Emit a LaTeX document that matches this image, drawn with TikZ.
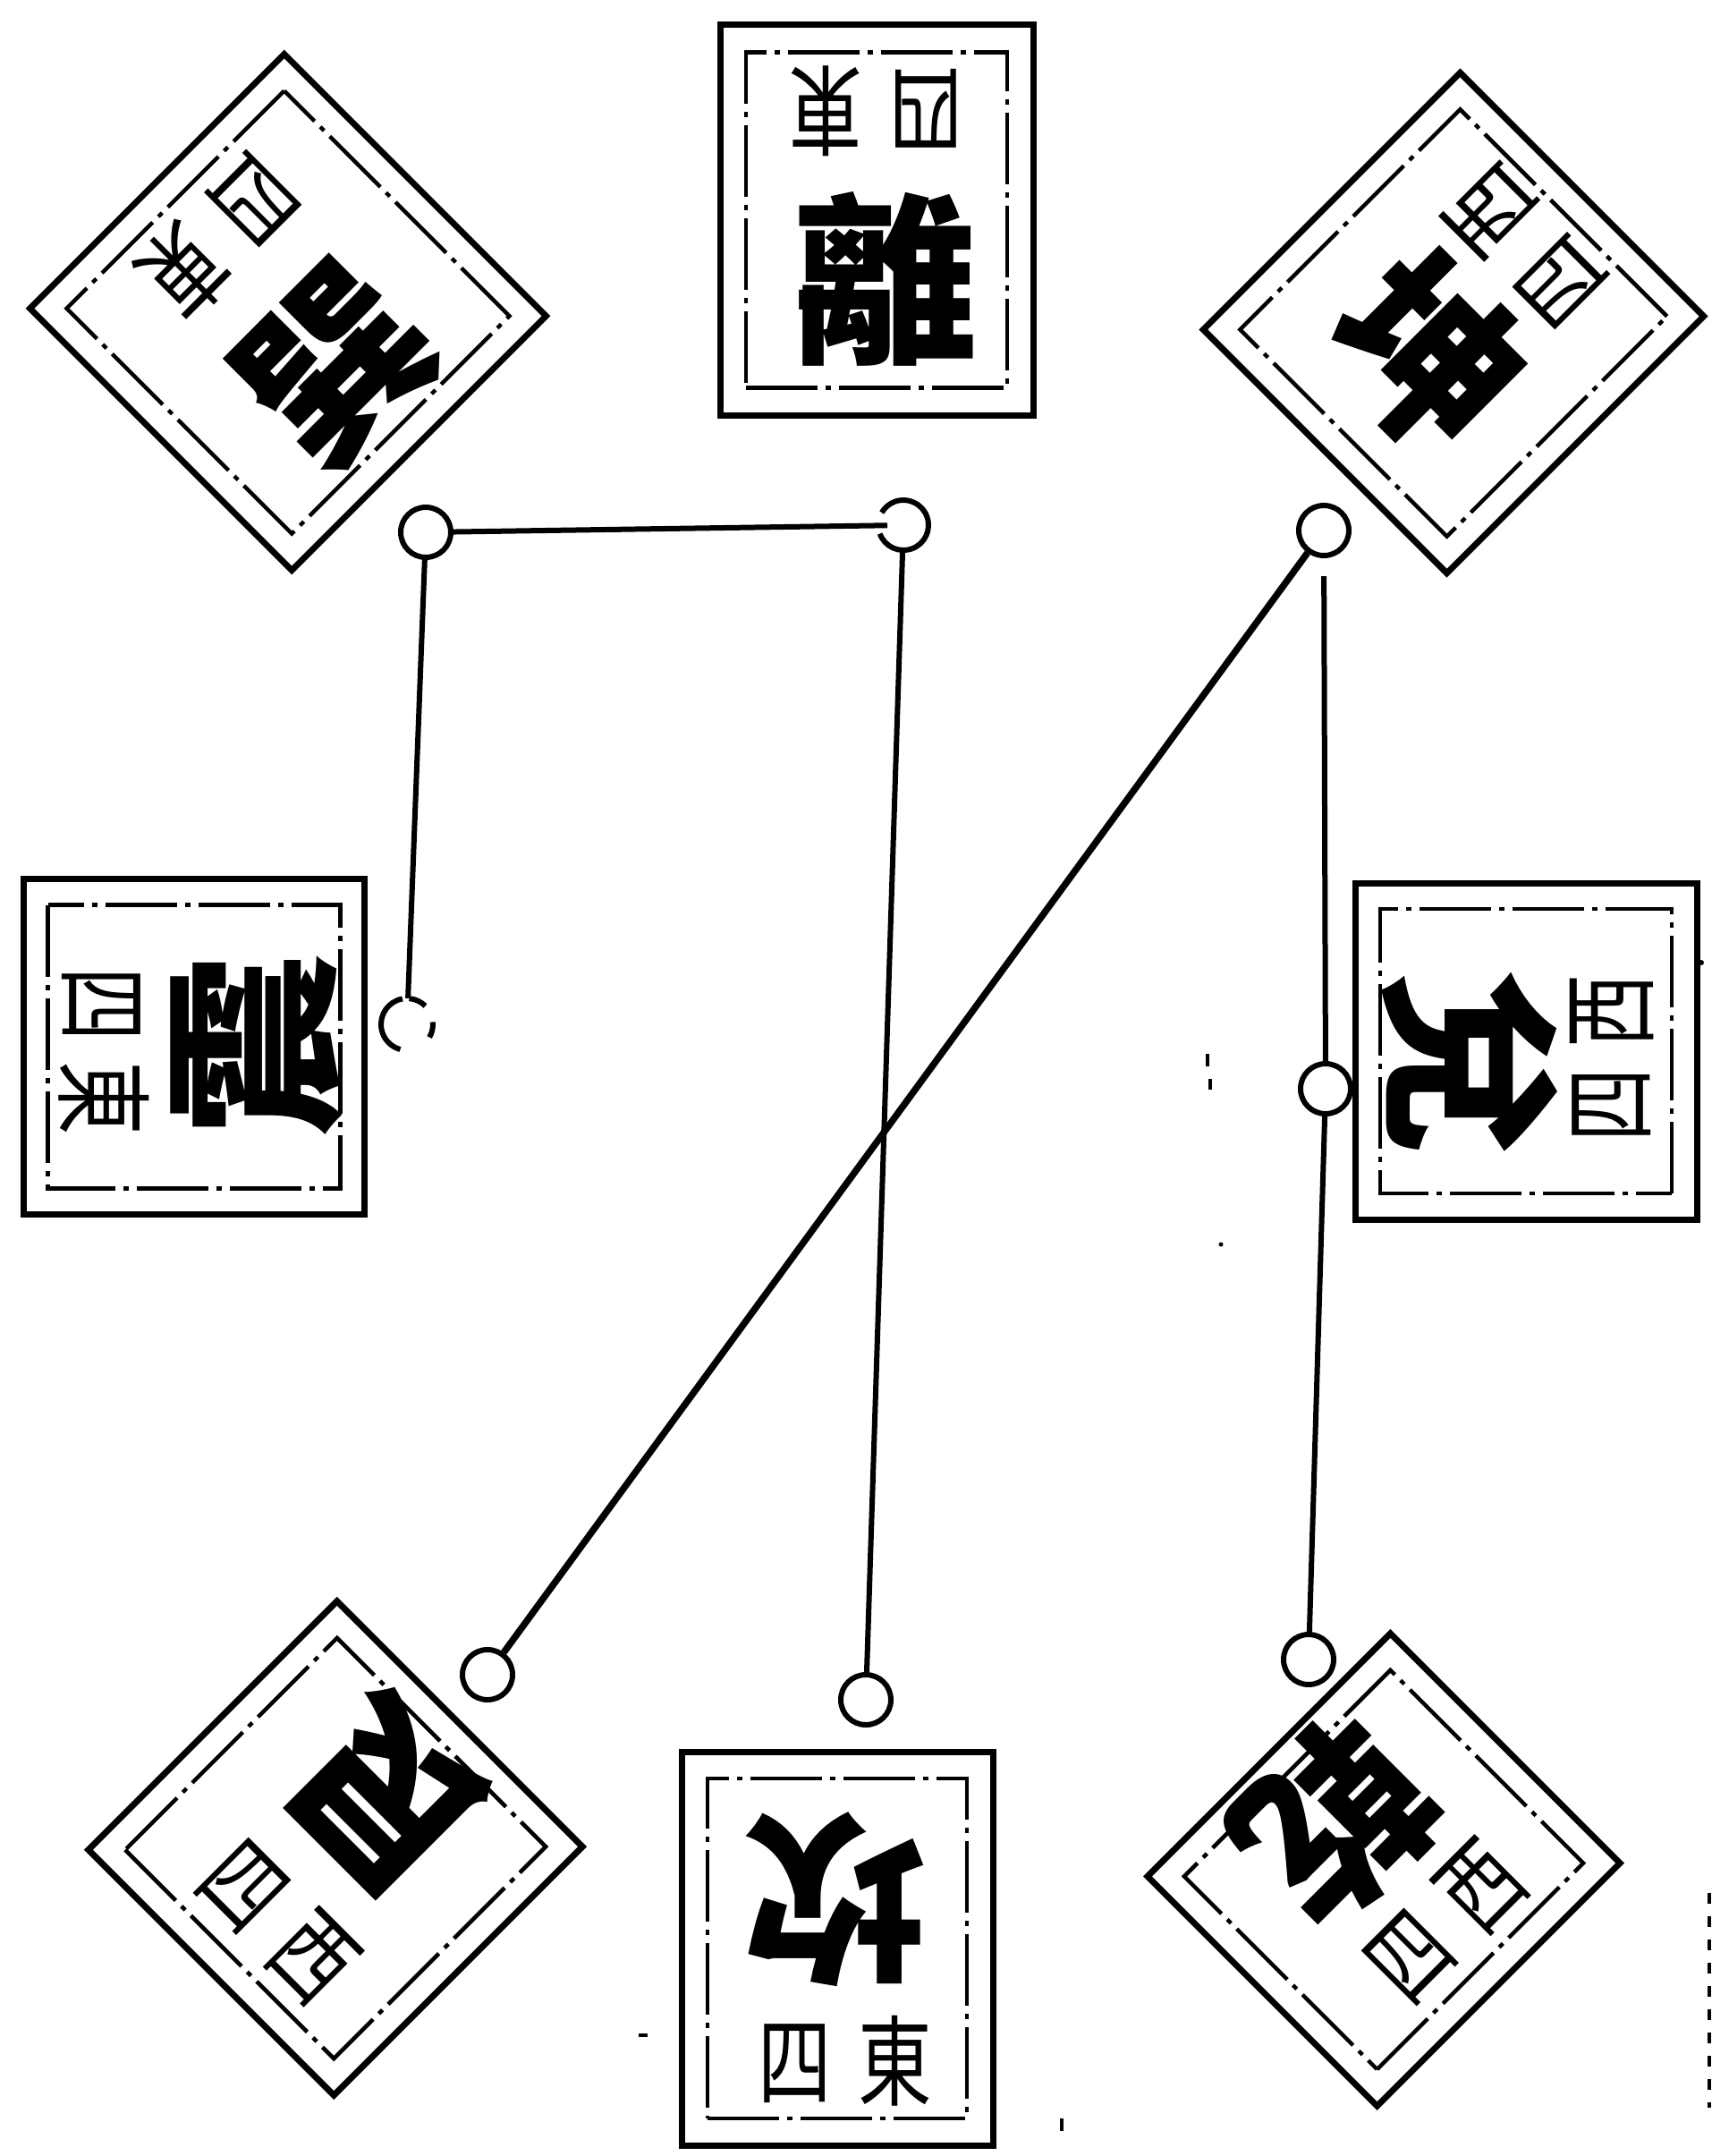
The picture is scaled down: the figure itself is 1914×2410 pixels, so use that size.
\documentclass[tikz,border=0pt]{standalone}
\usepackage{fontspec}
\newfontfamily\cjk{Noto Sans CJK TC}
\begin{document}
\begin{tikzpicture}[x=1pt,y=1pt,
  frame/.style={draw, line width=7pt, inner sep=0pt, outer sep=0pt},
  inframe/.style={draw, line width=4.5pt, inner sep=0pt, outer sep=0pt,
    dash pattern=on 80pt off 9pt on 6pt off 9pt},
  bigchar/.style={font=\cjk\bfseries\fontsize{205}{205}\selectfont, inner sep=0pt},
  smallchar/.style={font=\cjk\fontsize{110}{110}\selectfont, inner sep=0pt, xscale=0.75},
  ring/.style={circle, draw, line width=6pt, minimum size=56pt, inner sep=0pt},
  hidring/.style={circle, minimum size=58pt, inner sep=0pt},
  ringline/.style={line width=6pt},
  wire/.style={line width=6pt},
  speck/.style={line width=4pt},
]
\useasboundingbox[fill=white] (0,0) rectangle (1914,-2410);

% ---------- 離 (top) ----------
\begin{scope}[shift={(980,-246)}, rotate=0, transform shape]
  \node[frame, minimum width=350pt, minimum height=437pt] (li) at (0,0) {};
  \node[inframe, minimum width=292pt, minimum height=375pt] (li-in) at (0,0) {};
  \node[bigchar] (li-big) at (10,-66) {離};
  \node[smallchar, rotate=180] (li-small) at (-1,122) {四\hspace{39pt}東};
\end{scope}

% ---------- 坎 (bottom) ----------
\begin{scope}[shift={(936,-2178)}, rotate=180, transform shape]
  \node[frame, minimum width=348pt, minimum height=440pt] (kan) at (0,0) {};
  \node[inframe, minimum width=290pt, minimum height=380pt] (kan-in) at (0,0) {};
  \node[bigchar] (kan-big) at (2,-55) {坎};
  \node[smallchar, rotate=180] (kan-small) at (-9,126) {四\hspace{39pt}東};
\end{scope}

% ---------- 震 (left) ----------
\begin{scope}[shift={(217,-1170)}, rotate=90, transform shape]
  \node[frame, minimum width=375pt, minimum height=381pt] (zhen) at (0,0) {};
  \node[inframe, minimum width=317pt, minimum height=327pt] (zhen-in) at (0,0) {};
  \node[bigchar] (zhen-big) at (2,-70) {震};
  \node[smallchar, rotate=180] (zhen-small) at (-5,101) {四\hspace{30pt}東};
\end{scope}

% ---------- 兌 (right) ----------
\begin{scope}[shift={(1706,-1175)}, rotate=-90, transform shape]
  \node[frame, minimum width=376pt, minimum height=382pt] (dui) at (0,0) {};
  \node[inframe, minimum width=318pt, minimum height=326pt] (dui-in) at (0,0) {};
  \node[bigchar] (dui-big) at (13,-63) {兌};
  \node[smallchar, rotate=180] (dui-small) at (8,96) {四\hspace{30pt}西};
\end{scope}

% ---------- 巽 (top left) ----------
\begin{scope}[shift={(322,-349)}, rotate=45, transform shape]
  \node[frame, minimum width=402pt, minimum height=414pt] (xun) at (0,0) {};
  \node[inframe, minimum width=344pt, minimum height=356pt] (xun-in) at (0,0) {};
  \node[bigchar] (xun-big) at (-4,-79) {巽};
  \node[smallchar, rotate=180] (xun-small) at (6,115) {四\hspace{39pt}東};
\end{scope}

% ---------- 坤 (top right) ----------
\begin{scope}[shift={(1625,-361)}, rotate=-45, transform shape]
  \node[frame, minimum width=385pt, minimum height=406pt] (kun) at (0,0) {};
  \node[inframe, minimum width=327pt, minimum height=348pt] (kun-in) at (0,0) {};
  \node[bigchar] (kun-big) at (4,-44) {坤};
  \node[smallchar, rotate=180] (kun-small) at (-4,119) {四\hspace{39pt}西};
\end{scope}

% ---------- 艮 (bottom left) ----------
\begin{scope}[shift={(375,-2066)}, rotate=135, transform shape]
  \node[frame, minimum width=388pt, minimum height=393pt] (gen) at (0,0) {};
  \node[inframe, minimum width=330pt, minimum height=335pt] (gen-in) at (0,0) {};
  \node[bigchar] (gen-big) at (-1,-84) {艮};
  \node[smallchar, rotate=180] (gen-small) at (-13,105) {四\hspace{39pt}西};
\end{scope}

% ---------- 乾 (bottom right) ----------
\begin{scope}[shift={(1547,-2090)}, rotate=-135, transform shape]
  \node[frame, minimum width=384pt, minimum height=363pt] (qian) at (0,0) {};
  \node[inframe, minimum width=326pt, minimum height=305pt] (qian-in) at (0,0) {};
  \node[bigchar] (qian-big) at (0,-76) {乾};
  \node[smallchar, rotate=180] (qian-small) at (-8,91) {四\hspace{39pt}西};
\end{scope}

% ---------- rings ----------
\node[ring] (rXun)  at (476,-595) {};
\node[hidring] (rLi) at (1010,-587) {};
\node[ring] (rKun)  at (1480,-593) {};
\node[hidring] (rZhen) at (455,-1145) {};
\node[ring] (rDui)  at (1482,-1217) {};
\node[ring] (rKan)  at (968,-1900) {};
\node[ring] (rGen)  at (545,-1872) {};
\node[ring] (rQian) at (1463,-1855) {};

% ring at 離, open on its left
\draw[ringline] (rLi.center) ++(-160:28) arc[start angle=-160, end angle=150, radius=28];
% broken ring at 震
\draw[ringline] (rZhen.center) ++(100:29) arc[start angle=100, end angle=255, radius=29];
\draw[ringline] (rZhen.center) ++(45:29) arc[start angle=45, end angle=85, radius=29];
\draw[ringline] (rZhen.center) ++(5:29) arc[start angle=5, end angle=-30, radius=29];

% ---------- connectors ----------
\draw[wire, shorten >=18pt] (rXun) -- (rLi.center);
\draw[wire] (rXun) -- (rZhen);
\draw[wire] (rLi) -- (rKan);
\draw[wire, line width=7.5pt] (rKun) -- (rGen);
\draw[wire, shorten <=20pt] (rKun) -- (rDui);
\draw[wire] (rDui) -- (rQian);

% ---------- specks of the print ----------
\coordinate (e1) at (1911,-2116);
\coordinate (e2) at (1911,-2356);
\draw[speck, dash pattern=on 12pt off 14pt] (e1) -- (e2);
\fill (1902,-1076) circle (3);
\coordinate (s1) at (1350,-1178);
\coordinate (s2) at (1350,-1192);
\draw[speck] (s1) -- (s2);
\coordinate (s3) at (1353,-1206);
\coordinate (s4) at (1353,-1218);
\draw[speck] (s3) -- (s4);
\fill (1365,-1391) circle (2.5);
\coordinate (s5) at (714,-2275);
\coordinate (s6) at (724,-2275);
\draw[speck] (s5) -- (s6);
\coordinate (s7) at (1187,-2368);
\coordinate (s8) at (1187,-2382);
\draw[speck] (s7) -- (s8);
\end{tikzpicture}
\end{document}
